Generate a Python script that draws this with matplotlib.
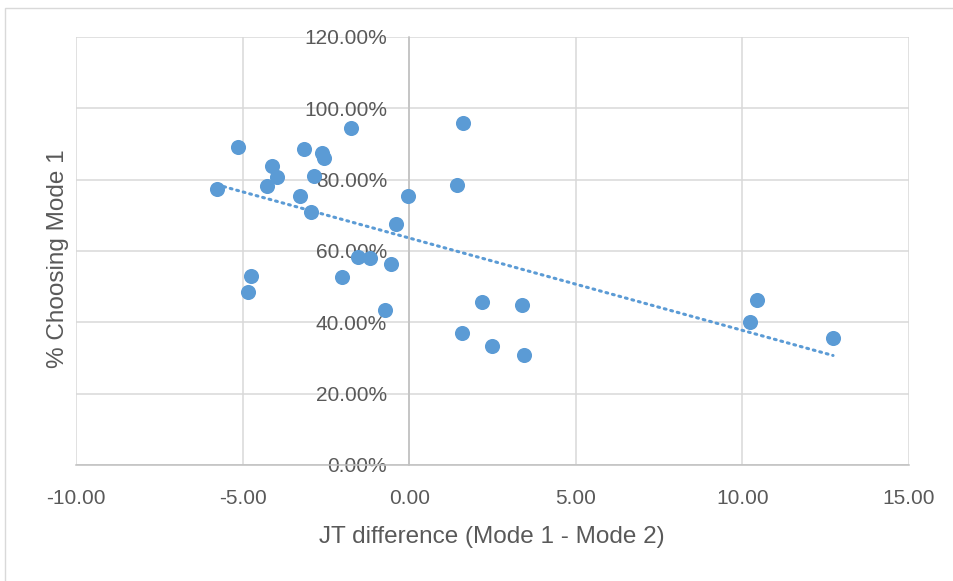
import numpy as np
import matplotlib.pyplot as plt
from matplotlib.patches import Rectangle
from matplotlib.ticker import FuncFormatter

# data (JT difference, share choosing mode 1)
jt_diff = [-5.76, -5.13, -4.75, -4.83, -4.26, -4.12, -3.98, -3.28, -3.16, -2.96,
           -2.85, -2.61, -2.55, -2.03, -1.74, -1.55, -1.19, -0.73, -0.54, -0.40,
           -0.05, 1.43, 1.61, 1.59, 2.18, 2.49, 3.40, 3.45, 10.24, 10.44, 12.72]
pct_mode1 = [0.773, 0.892, 0.531, 0.486, 0.782, 0.839, 0.808, 0.754, 0.887, 0.710,
             0.811, 0.876, 0.862, 0.528, 0.945, 0.584, 0.581, 0.435, 0.564, 0.675,
             0.754, 0.785, 0.958, 0.371, 0.456, 0.334, 0.449, 0.308, 0.402, 0.463, 0.357]
x_ticks = [-10, -5, 0, 5, 10, 15]
y_ticks = [0, 0.2, 0.4, 0.6, 0.8, 1.0, 1.2]

blue = '#5B9BD5'
grey_txt = '#595959'

plt.rcParams['font.family'] = ['Liberation Sans', 'DejaVu Sans']
plt.rcParams['axes.unicode_minus'] = False

fig = plt.figure(figsize=(9.54, 5.81), dpi=100)
ax = fig.add_axes([76/954, 1 - 465/581, (909 - 76)/954, (465 - 37)/581])

# chart border (only left/top visible in the reference)
fig.patches.append(Rectangle((5/954, -0.1), 1.2, 1 - 8/581 + 0.1, transform=fig.transFigure,
                             fill=False, edgecolor='#D9D9D9', lw=1))

ax.scatter(jt_diff, pct_mode1, s=118, color=blue, zorder=3, linewidths=0)

# linear trendline
k, b = np.polyfit(jt_diff, pct_mode1, 1)
xs = np.array([min(jt_diff), max(jt_diff)])
ax.plot(xs, k*xs + b, color=blue, lw=2.2, linestyle=(0, (0.6, 1.6)),
        dash_capstyle='round', zorder=2)

ax.set_xlim(-10, 15)
ax.set_ylim(0, 1.2)
ax.set_xticks(x_ticks)
ax.set_yticks(y_ticks)
ax.xaxis.set_major_formatter(FuncFormatter(lambda v, p: f'{v:.2f}'))
ax.yaxis.set_major_formatter(FuncFormatter(lambda v, p: f'{v*100:.2f}%'))
ax.grid(True, color='#D9D9D9', lw=1.1, zorder=0)
ax.set_axisbelow(True)

for s in ['top', 'right']:
    ax.spines[s].set_visible(False)
ax.spines['left'].set_position(('data', 0))
ax.spines['left'].set_color('#BFBFBF')
ax.spines['bottom'].set_color('#BFBFBF')
ax.spines['left'].set_linewidth(1.1)
ax.spines['bottom'].set_linewidth(1.1)

ax.tick_params(axis='both', length=0, labelsize=15, labelcolor=grey_txt)
ax.tick_params(axis='x', pad=17)
ax.tick_params(axis='y', pad=16)

fig.text(492/954, 1 - 537/581, 'JT difference (Mode 1 - Mode 2)', ha='center', va='center',
         fontsize=17.5, color=grey_txt)
fig.text(58/954, 1 - 259/581, '% Choosing Mode 1', ha='center', va='center',
         rotation=90, fontsize=17.5, color=grey_txt)

fig.savefig('out.png', dpi=100)
